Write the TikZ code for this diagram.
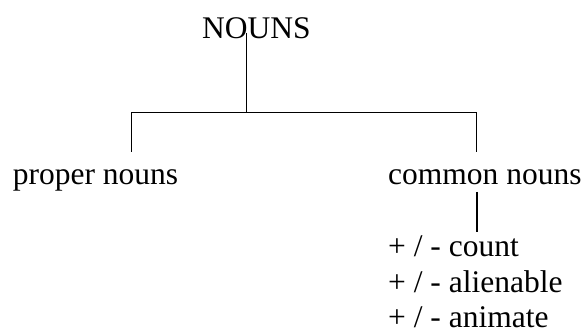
\documentclass[tikz,border=0pt]{standalone}
\usepackage{fontspec}
\setmainfont{Liberation Serif}
\tikzset{
  lbl/.style={anchor=base west, inner sep=0pt, font=\fontsize{31.5}{36}\selectfont},
  br/.style={line width=1.5pt, line cap=butt}
}
\begin{document}
\begin{tikzpicture}[x=1pt,y=1pt]
\useasboundingbox (0,0) rectangle (587,-336);
\node[lbl] (nouns) at (202,-38.5) {NOUNS};
\node[lbl] (proper) at (12.7,-185) {proper nouns};
\node[lbl] (common) at (388,-185) {common nouns};
\node[lbl] (count) at (388,-257) {+ / - count};
\node[lbl] (alien) at (388,-292.5) {+ / - alienable};
\node[lbl] (anim) at (388,-328) {+ / - animate};
\coordinate (ntop) at (246.5,-33);
\coordinate (junc) at (246.5,-112.7);
\coordinate (lcorner) at (131.7,-112.7);
\coordinate (rcorner) at (476.5,-112.7);
\coordinate (lend) at (131.7,-151.7);
\coordinate (rend) at (476.5,-151.7);
\coordinate (ctop) at (477,-192);
\coordinate (cbot) at (477,-232);
\draw[br] (ntop) -- (junc);
\draw[br] (lend) -- (lcorner) -- (rcorner) -- (rend);
\draw[br] (ctop) -- (cbot);
\end{tikzpicture}
\end{document}
